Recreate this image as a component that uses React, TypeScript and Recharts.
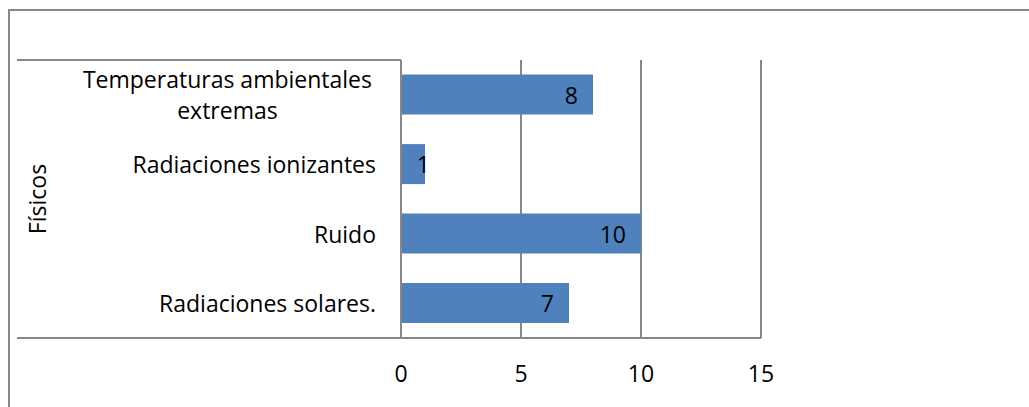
import { BarChart, Bar, XAxis, YAxis, CartesianGrid, LabelList } from 'recharts'

// categories top to bottom, as in the sheet
const categories = [
  'Temperaturas ambientales extremas',
  'Radiaciones ionizantes',
  'Ruido',
  'Radiaciones solares.',
]
const counts = [8, 1, 10, 7]
const xTicks = [0, 5, 10, 15]
const groupLabel = 'Físicos'

const data = categories.map((name, i) => ({ name, value: counts[i] }))

const W = 1029
const H = 407
const FONT = '"Open Sans", sans-serif'
const FONT_SIZE = 23
const LINE_H = 31
const GREY = '#878787'
const BAR = '#4F81BD'

const PLOT = { left: 401, right: 761, top: 60, bottom: 338 }
const X_AXIS_H = 50

let ctx: CanvasRenderingContext2D | null = null
function measure(text: string) {
  if (!ctx) ctx = document.createElement('canvas').getContext('2d')
  if (!ctx) return text.length * FONT_SIZE * 0.5
  ctx.font = `${FONT_SIZE}px "Open Sans"`
  return ctx.measureText(text).width
}

// word wrap like Excel does for long category names
function wrap(text: string, maxWidth: number) {
  const words = text.split(' ')
  const lines: string[] = []
  let cur = ''
  for (const w of words) {
    const next = cur ? cur + ' ' + w : w
    if (cur && measure(next) > maxWidth) {
      lines.push(cur)
      cur = w
    } else {
      cur = next
    }
  }
  if (cur) lines.push(cur)
  return lines
}

function CategoryTick(props: any) {
  const { x, y, payload } = props
  const lines = wrap(String(payload.value), 310)
  if (lines.length === 1) {
    return (
      <text x={x} y={y} textAnchor="end" dominantBaseline="central" fontSize={FONT_SIZE} fontFamily={FONT} fill="#000">
        {lines[0]}
      </text>
    )
  }
  const maxW = Math.max(...lines.map(measure))
  const cx = x - maxW / 2 - 4
  const y0 = y - ((lines.length - 1) * LINE_H) / 2
  return (
    <text textAnchor="middle" dominantBaseline="central" fontSize={FONT_SIZE} fontFamily={FONT} fill="#000">
      {lines.map((l, i) => (
        <tspan key={i} x={cx} y={y0 + i * LINE_H}>{l}</tspan>
      ))}
    </text>
  )
}

// inside-end label, but short bars push it past the end like Excel does
function ValueLabel(props: any) {
  const { x, y, width, height, value } = props
  const tx = Math.max(x + width - 15, x + 29)
  return (
    <text x={tx} y={y + height / 2} textAnchor="end" dominantBaseline="central" fontSize={FONT_SIZE} fontFamily={FONT} fill="#000">
      {value}
    </text>
  )
}

export default function App() {
  return (
    <div style={{ position: 'fixed', left: 0, top: 0, width: W, height: H, background: '#fff', overflow: 'hidden' }}>
      {/* outer chart border, only top and left show in the crop */}
      <div style={{ position: 'absolute', left: 8, top: 9, width: W, height: H, borderTop: `2px solid ${GREY}`, borderLeft: `2px solid ${GREY}` }} />
      <div style={{ position: 'absolute', left: 0, top: 0 }}>
        <BarChart
          width={W}
          height={H}
          data={data}
          layout="vertical"
          barCategoryGap="21%"
          margin={{ top: PLOT.top, right: W - PLOT.right, bottom: H - PLOT.bottom - X_AXIS_H, left: 0 }}
        >
          <CartesianGrid horizontal={false} stroke={GREY} strokeWidth={2} strokeDasharray="" />
          <XAxis
            type="number"
            domain={[0, 15]}
            ticks={xTicks}
            height={X_AXIS_H}
            axisLine={{ stroke: GREY, strokeWidth: 2 }}
            tickLine={false}
            tickMargin={22}
            tick={{ fontSize: FONT_SIZE, fontFamily: FONT, fill: '#000' }}
          />
          <YAxis
            type="category"
            dataKey="name"
            width={PLOT.left}
            axisLine={{ stroke: GREY, strokeWidth: 2 }}
            tickLine={false}
            tickMargin={19}
            interval={0}
            tick={<CategoryTick />}
          />
          <Bar dataKey="value" fill={BAR} isAnimationActive={false}>
            <LabelList dataKey="value" content={<ValueLabel />} />
          </Bar>
        </BarChart>
      </div>
      {/* multi-level category frame and group label */}
      <svg width={W} height={H} style={{ position: 'absolute', left: 0, top: 0, pointerEvents: 'none' }}>
        <line x1={17} y1={PLOT.top} x2={PLOT.left} y2={PLOT.top} stroke={GREY} strokeWidth={2} />
        <line x1={17} y1={PLOT.bottom} x2={PLOT.left} y2={PLOT.bottom} stroke={GREY} strokeWidth={2} />
        <text
          x={37}
          y={(PLOT.top + PLOT.bottom) / 2}
          transform={`rotate(-90 37 ${(PLOT.top + PLOT.bottom) / 2})`}
          textAnchor="middle"
          dominantBaseline="central"
          fontSize={FONT_SIZE}
          fontFamily={FONT}
          fill="#000"
        >
          {groupLabel}
        </text>
      </svg>
    </div>
  )
}
